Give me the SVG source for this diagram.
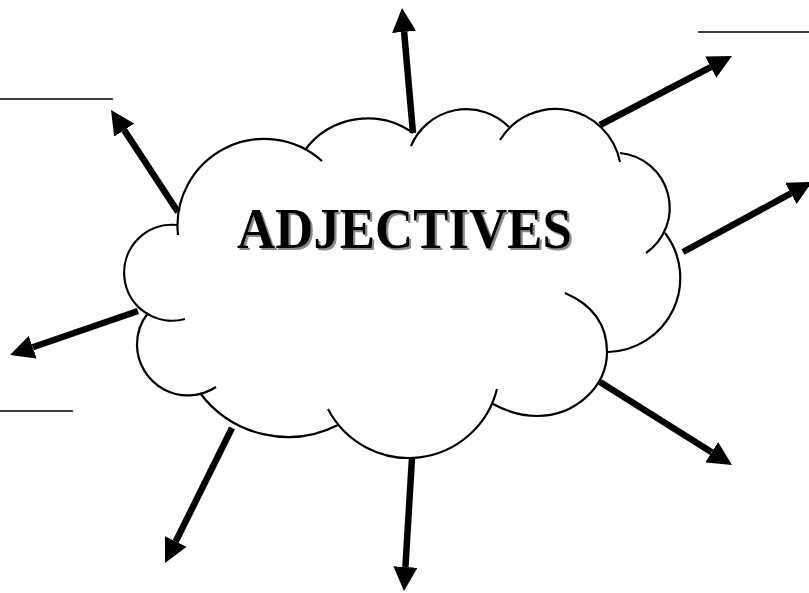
<svg xmlns="http://www.w3.org/2000/svg" width="809" height="593" viewBox="0 0 809 593">
  <style>
    .lobe { fill: none; stroke: #000; stroke-width: 2.2; stroke-linecap: butt; }
    .arrow { fill: none; stroke: #000; stroke-width: 6.5; stroke-linecap: butt; marker-end: url(#ah); }
    .blank { fill: none; stroke: #000; stroke-width: 1.5; }
    .title { font-family: "Liberation Serif", "DejaVu Serif", serif; font-weight: bold; font-size: 56px; fill: #000; }
  </style>
  <defs>
    <marker id="ah" viewBox="0 -12 24 24" refX="0" refY="0" markerWidth="24" markerHeight="24" markerUnits="userSpaceOnUse" orient="auto">
      <path d="M0,-12 L24,0 L0,12 Z" fill="#000"/>
    </marker>
    <filter id="shadow" x="-5%" y="-20%" width="110%" height="140%">
      <feOffset in="SourceAlpha" dx="2" dy="2" result="off"/>
      <feFlood flood-color="#8a8a8a"/>
      <feComposite in2="off" operator="in" result="sh"/>
      <feMerge><feMergeNode in="sh"/><feMergeNode in="SourceGraphic"/></feMerge>
    </filter>
  </defs>
  <rect width="809" height="593" fill="#fff"/>

  <g id="cloud">
    <path class="lobe" d="M178,235 A86.7,86.7 0 0 1 322,161"/>
    <path class="lobe" d="M305,150 A78,78 0 0 1 413,133"/>
    <path class="lobe" d="M411,146 A60,60 0 0 1 509,127"/>
    <path class="lobe" d="M500,140 A65.5,65.5 0 0 1 620,162"/>
    <path class="lobe" d="M620,153 A55,55 0 0 1 646,253"/>
    <path class="lobe" d="M665,233 A74,74 0 0 1 608,352"/>
    <path class="lobe" d="M565,293 C593,305 607,325 607,352 C607,387 575,416 537,416 C521,416 506,411 493,404"/>
    <path class="lobe" d="M497,389 A91,91 0 0 1 328,409"/>
    <path class="lobe" d="M338,425 A110,110 0 0 1 200,393"/>
    <path class="lobe" d="M216,387 A51,51 0 0 1 137,345 A51,51 0 0 1 148,313"/>
    <path class="lobe" d="M185,319 A48,48 0 1 1 177,225"/>
    <text class="title" x="237" y="248" textLength="335" lengthAdjust="spacingAndGlyphs" filter="url(#shadow)">ADJECTIVES</text>
  </g>

  <g id="blank-top-left"><line class="blank" x1="0" y1="99" x2="113" y2="99"/></g>
  <g id="blank-top-right"><line class="blank" x1="698" y1="32" x2="809" y2="32"/></g>
  <g id="blank-left"><line class="blank" x1="0" y1="411" x2="73" y2="411"/></g>

  <g id="connectors">
    <line class="arrow" x1="178" y1="212" x2="124.2" y2="130.1"/>
    <line class="arrow" x1="413" y1="133" x2="404.1" y2="31.9"/>
    <line class="arrow" x1="600" y1="125" x2="710.7" y2="67.1"/>
    <line class="arrow" x1="683" y1="252" x2="790.9" y2="193.4"/>
    <line class="arrow" x1="600" y1="382" x2="711.7" y2="452.2"/>
    <line class="arrow" x1="412" y1="458" x2="405.4" y2="567"/>
    <line class="arrow" x1="232" y1="428" x2="175.7" y2="541.5"/>
    <line class="arrow" x1="138" y1="311" x2="32.7" y2="347.2"/>
  </g>
</svg>
